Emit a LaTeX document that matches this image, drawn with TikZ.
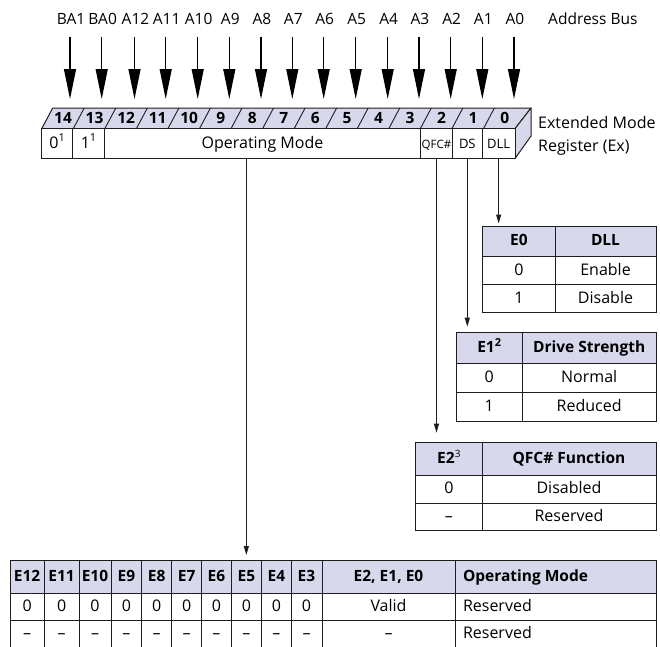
\documentclass[tikz,border=0pt]{standalone}
\usepackage{fontspec}
\setmainfont{Open Sans}
\usetikzlibrary{arrows.meta}
\definecolor{lav}{RGB}{216,216,236}
\definecolor{ink}{RGB}{30,30,30}
\newcommand\mysup[1]{\raisebox{0.42em}{\fontsize{11}{11}\selectfont #1}}
% [style]{name}{x1}{y1}{x2}{y2}{text}
\newcommand\tcell[7][]{%
  \pgfmathsetmacro\cw{#5-#3}\pgfmathsetmacro\ch{#6-#4}%
  \pgfmathsetmacro\cx{(#3+#5)/2}\pgfmathsetmacro\cy{(#4+#6)/2}%
  \node[cellbase,#1,minimum width=\cw pt,minimum height=\ch pt] (#2) at (\cx,\cy) {#7};}
\begin{document}
\begin{tikzpicture}[x=1pt,y=-1pt,
  font=\fontsize{16}{19}\selectfont,
  cellbase/.style={draw=ink,line width=1pt,inner sep=0pt,fill=white,text height=0.95em,text depth=0pt},
  hdr/.style={fill=lav,font=\bfseries\fontsize{15.5}{18}\selectfont},
  smalltxt/.style={font=\fontsize{13}{15}\selectfont},
  tinytxt/.style={font=\fontsize{11.5}{13}\selectfont},
  lbl/.style={inner sep=0pt,text height=0.72em,text depth=0pt},
  bigarrow/.style={-{Triangle[length=30pt,width=12pt]},line width=1.2pt},
  conn/.style={-{Triangle[length=9pt,width=5pt]},line width=1pt,draw=ink},
  face/.style={draw=ink,line width=1pt,fill=lav,line join=round}]
\useasboundingbox (0,0) rectangle (660,646);
\clip (0,0) rectangle (660,646);

% ---- address bus labels and arrows
\foreach \x/\t/\n in {70/BA1/14,101.7/BA0/13,134.5/A12/12,165.7/A11/11,197.7/A10/10,
  229.3/A9/9,261/A8/8,292.3/A7/7,323.7/A6/6,355.7/A5/5,387.7/A4/4,419/A3/3,
  450.7/A2/2,482.3/A1/1,514/A0/0}{
  \node[lbl,font=\fontsize{15.5}{18}\selectfont] (l\n) at (\x+1,21) {\t};
  \coordinate (t\n) at (\x,99);
  \draw[bigarrow] (l\n.south -| t\n) ++(0,12) -- (t\n);
}
\node[lbl,anchor=west,font=\fontsize{15.5}{18}\selectfont] (abus) at (548,21) {Address Bus};

% ---- register top face and side
\draw[face] (41.7,128.7) -- (52.7,108) -- (531,108) -- (515,128.7) -- cycle;
\draw[face] (515,128.7) -- (531,108) -- (531,136) -- (515,158.5) -- cycle;
\foreach \j in {1,...,14}{
  \draw[ink,line width=0.9pt] (41.7+\j*31.55,128.7) -- (52.7+\j*31.55,108);
}
\foreach \j in {0,...,14}{
  \pgfmathtruncatemacro\bit{14-\j}
  \node[lbl,font=\bfseries\fontsize{15.5}{18}\selectfont] (n\bit) at (41.7+\j*31.55+15.8+5.5,119.5) {\bit};
}

% ---- register front cells
\tcell{r14}{41.7}{128.7}{72.7}{158.5}{0\mysup{1}}
\tcell{r13}{72.7}{128.7}{104.3}{158.5}{1\mysup{1}}
\tcell{opm}{104.3}{128.7}{420.7}{158.5}{Operating Mode}
\tcell[tinytxt]{qfc}{420.7}{128.7}{452.3}{158.5}{QFC\#}
\tcell[smalltxt]{ds}{452.3}{128.7}{482.3}{158.5}{DS}
\tcell[smalltxt]{dll}{482.3}{128.7}{515}{158.5}{DLL}

\node[lbl,anchor=west] (ext1) at (538,125) {Extended Mode};
\node[lbl,anchor=west] (ext2) at (538,148) {Register (Ex)};

% ---- E0 table
\tcell[hdr]{e0h}{482.7}{226}{555}{256}{E0}
\tcell[hdr]{e0hd}{555}{226}{656}{256}{DLL}
\tcell{e0a}{482.7}{256}{555}{284.5}{0}
\tcell{e0b}{555}{256}{656}{284.5}{Enable}
\tcell{e0c}{482.7}{284.5}{555}{312.5}{1}
\tcell{e0d}{555}{284.5}{656}{312.5}{Disable}

% ---- E1 table
\tcell[hdr]{e1h}{456}{332.7}{522.3}{363.3}{E1\mysup{2}}
\tcell[hdr]{e1hd}{522.3}{332.7}{656}{363.3}{Drive Strength}
\tcell{e1a}{456}{363.3}{522.3}{392.7}{0}
\tcell{e1b}{522.3}{363.3}{656}{392.7}{Normal}
\tcell{e1c}{456}{392.7}{522.3}{421.7}{1}
\tcell{e1d}{522.3}{392.7}{656}{421.7}{Reduced}

% ---- E2 table
\tcell[hdr]{e2h}{415.7}{442.7}{482}{475}{E2\mysup{\mdseries\fontsize{10}{10}\selectfont 3}}
\tcell[hdr]{e2hd}{482}{442.7}{656}{475}{QFC\# Function}
\tcell{e2a}{415.7}{475}{482}{503.3}{0}
\tcell{e2b}{482}{475}{656}{503.3}{Disabled}
\tcell{e2c}{415.7}{503.3}{482}{530.7}{--}
\tcell{e2d}{482}{503.3}{656}{530.7}{Reserved}

% ---- operating mode table
\foreach \a/\b/\t in {10/44.3/12,44.3/79/11,79/111/10,111/141.7/9,141.7/171.7/8,
  171.7/201.7/7,201.7/231/6,231/261.7/5,261.7/291/4,291/322/3}{
  \tcell[hdr]{hE\t}{\a}{560}{\b}{593.3}{E\t}
  \tcell{rE\t}{\a}{593.3}{\b}{620.7}{0}
  \tcell{sE\t}{\a}{620.7}{\b}{647.5}{--}
}
\tcell[hdr]{hE210}{322}{560}{455}{593.3}{E2, E1, E0}
\tcell{rE210}{322}{593.3}{455}{620.7}{Valid}
\tcell{sE210}{322}{620.7}{455}{647.5}{--}
\tcell[hdr]{hopm}{455}{560}{656}{593.3}{}
\tcell{ropm}{455}{593.3}{656}{620.7}{}
\tcell{sopm}{455}{620.7}{656}{647.5}{}
\node[cellbase,draw=none,fill=none,anchor=west,font=\bfseries\fontsize{15.5}{18}\selectfont] (thopm) at ([xshift=8pt]hopm.west) {Operating Mode};
\node[cellbase,draw=none,fill=none,anchor=west] (tropm) at ([xshift=8pt]ropm.west) {Reserved};
\node[cellbase,draw=none,fill=none,anchor=west] (tsopm) at ([xshift=8pt]sopm.west) {Reserved};

% ---- connectors
\draw[conn,shorten >=4.5pt] (opm.south -| hE5.north) -- (hE5.north);
\draw[conn,shorten >=9.5pt] (qfc.south) -- (qfc.south |- e2h.north);
\draw[conn,shorten >=5.5pt] (ds.south) -- (ds.south |- e1h.north);
\draw[conn,shorten >=2pt] (dll.south) -- (dll.south |- e0h.north);
\end{tikzpicture}
\end{document}
